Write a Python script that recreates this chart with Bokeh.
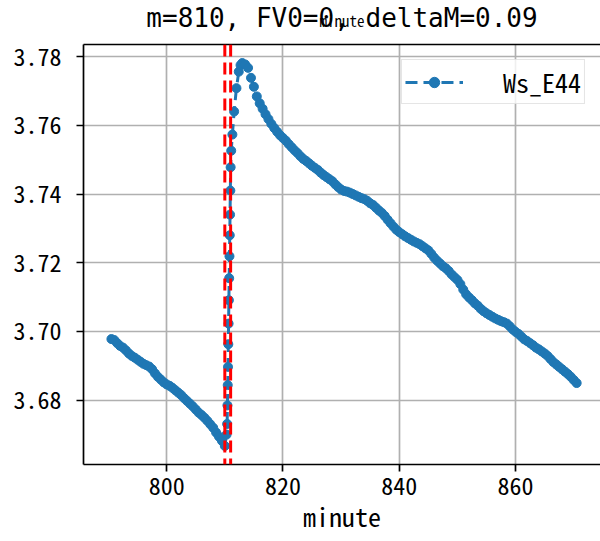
from bokeh.plotting import figure
from bokeh.models import (FixedTicker, LinearAxis, Span, Legend, LegendItem,
                          PrintfTickFormatter, Range1d, CustomJSTickFormatter)
from bokeh.embed import file_html
from bokeh.resources import INLINE

FONT = "'Noto Sans Mono CJK SC', 'Noto Sans CJK SC', monospace"
TITLE_FONT = "'DejaVu Sans Mono', monospace"

series_name = "Ws_E44"
title_text = "m=810, FV0=0, deltaM=0.09"
x_label = "minute"
x_ticks = [800, 820, 840, 860]
y_ticks = [3.68, 3.70, 3.72, 3.74, 3.76, 3.78]
vlines = [810, 811]

# before the jump, sampled every 0.5 minute from 790.5
before_start = 790.5
before_vals = [
    3.6978, 3.6975, 3.6966, 3.6958, 3.6953, 3.6945, 3.6936, 3.6929, 3.6924, 3.6918,
    3.6912, 3.6906, 3.6902, 3.6898, 3.6890, 3.6878, 3.6868, 3.6860, 3.6852, 3.6846,
    3.6842, 3.6836, 3.6829, 3.6822, 3.6815, 3.6806, 3.6798, 3.6790, 3.6782, 3.6773,
    3.6764, 3.6757, 3.6749, 3.6740, 3.6730, 3.6720, 3.6706, 3.6694, 3.6682, 3.6667,
]
# the jump
jump_min = [810.3, 810.4, 810.45, 810.5, 810.55, 810.6, 810.65, 810.7, 810.75, 810.8,
            810.85, 810.9, 810.95, 811.0, 811.1, 811.3, 811.6, 812.0, 812.4, 812.7, 813.0]
jump_vals = [3.6700, 3.6731, 3.6785, 3.6844, 3.6897, 3.6963, 3.7023, 3.7091, 3.7155, 3.7219,
             3.7280, 3.7340, 3.7410, 3.7478, 3.7526, 3.7573, 3.7640, 3.7708, 3.7756, 3.7775, 3.7781]
# after the peak, every 0.5 minute from 813.5
after_start = 813.5
after_vals = [
    3.7777, 3.7767, 3.7738, 3.7712, 3.7684, 3.7664, 3.7648, 3.7632, 3.7618, 3.7604,
    3.7592, 3.7581, 3.7571, 3.7563, 3.7555, 3.7545, 3.7536, 3.7527, 3.7519, 3.7510,
    3.7502, 3.7496, 3.7489, 3.7482, 3.7476, 3.7470, 3.7462, 3.7455, 3.7449, 3.7443,
    3.7437, 3.7428, 3.7420, 3.7413, 3.7409, 3.7407, 3.7404, 3.7400, 3.7396, 3.7392,
    3.7388, 3.7385, 3.7380, 3.7373, 3.7368, 3.7360, 3.7352, 3.7345, 3.7336, 3.7325,
    3.7315, 3.7305, 3.7296, 3.7289, 3.7283, 3.7277, 3.7272, 3.7267, 3.7262, 3.7258,
    3.7254, 3.7248, 3.7242, 3.7236, 3.7226, 3.7215, 3.7206, 3.7198, 3.7190, 3.7184,
    3.7176, 3.7166, 3.7158, 3.7150, 3.7138, 3.7122, 3.7108, 3.7099, 3.7091, 3.7082,
    3.7075, 3.7066, 3.7059, 3.7053, 3.7048, 3.7043, 3.7038, 3.7034, 3.7030, 3.7027,
    3.7023, 3.7015, 3.7006, 3.6999, 3.6993, 3.6985, 3.6977, 3.6972, 3.6966, 3.6960,
    3.6953, 3.6948, 3.6942, 3.6936, 3.6929, 3.6920, 3.6911, 3.6904, 3.6897, 3.6890,
    3.6883, 3.6876, 3.6868, 3.6859, 3.6850,
]

minutes = ([before_start + 0.5 * i for i in range(len(before_vals))] + jump_min +
           [after_start + 0.5 * i for i in range(len(after_vals))])
values = before_vals + jump_vals + after_vals

BLUE = "#1f77b4"
X0, X1 = 785.7, 874.6
Y0, Y1 = 3.6613, 3.7835
XC = (X0 + X1) / 2

p = figure(width=600, height=541, output_backend="svg", toolbar_location=None,
           x_range=Range1d(X0, X1), y_range=Range1d(Y0, Y1),
           min_border_left=83, min_border_right=0, min_border_top=44, min_border_bottom=77)
p.outline_line_color = None
p.background_fill_color = "white"
p.border_fill_color = "white"

for ax in (p.xaxis[0], p.yaxis[0]):
    ax.axis_line_color = "black"
    ax.axis_line_width = 1.7
    ax.major_tick_line_color = "black"
    ax.major_tick_line_width = 1.7
    ax.major_tick_out = 7
    ax.major_tick_in = 0
    ax.minor_tick_line_color = None
    ax.major_label_text_font = FONT
    ax.major_label_text_font_size = "24px"
    ax.major_label_text_color = "black"

p.xaxis[0].ticker = FixedTicker(ticks=x_ticks)
p.yaxis[0].ticker = FixedTicker(ticks=y_ticks)
p.yaxis[0].formatter = PrintfTickFormatter(format="%.2f")
p.xaxis[0].major_label_standoff = 5
p.yaxis[0].major_label_standoff = 15
p.xaxis[0].axis_label = x_label
p.xaxis[0].axis_label_text_font = FONT
p.xaxis[0].axis_label_text_font_size = "26px"
p.xaxis[0].axis_label_text_font_style = "normal"
p.xaxis[0].axis_label_text_color = "black"
p.xaxis[0].axis_label_standoff = -1

# top spine, carrying the title and the small overlapping "minute" label
top = LinearAxis(ticker=FixedTicker(ticks=[XC]),
                 formatter=CustomJSTickFormatter(args=dict(t=title_text), code="return t;"),
                 axis_line_color="black", axis_line_width=1.7,
                 major_tick_line_color=None, minor_tick_line_color=None,
                 major_tick_out=0, major_tick_in=0,
                 major_label_text_font=TITLE_FONT, major_label_text_font_size="26px",
                 major_label_text_color="black", major_label_standoff=12,
                 axis_label=x_label, axis_label_text_font=FONT,
                 axis_label_text_font_size="15px", axis_label_text_font_style="normal",
                 axis_label_text_color="black", axis_label_standoff=-31)
p.add_layout(top, "above")

p.xgrid.ticker = FixedTicker(ticks=x_ticks)
p.ygrid.ticker = FixedTicker(ticks=y_ticks)
p.grid.grid_line_color = "#b0b0b0"
p.grid.grid_line_width = 1.7

ln = p.line(minutes, values, line_color=BLUE, line_width=3, line_dash="12 6")
sc = p.scatter(minutes, values, size=9, fill_color=BLUE, line_color=BLUE)

for v in vlines:
    p.add_layout(Span(location=v, dimension="height", line_color="red",
                      line_width=3, line_dash="12 6"))

legend = Legend(items=[LegendItem(label=series_name, renderers=[ln, sc])],
                location="top_right", margin=15, padding=3, glyph_width=58, glyph_height=26,
                label_standoff=40, label_text_font=FONT, label_text_font_size="26px",
                label_text_color="black",
                border_line_color="#cccccc", border_line_width=1.5,
                background_fill_color="white", background_fill_alpha=0.8)
p.add_layout(legend, "center")

open("out.html", "w").write(file_html(p, INLINE))
